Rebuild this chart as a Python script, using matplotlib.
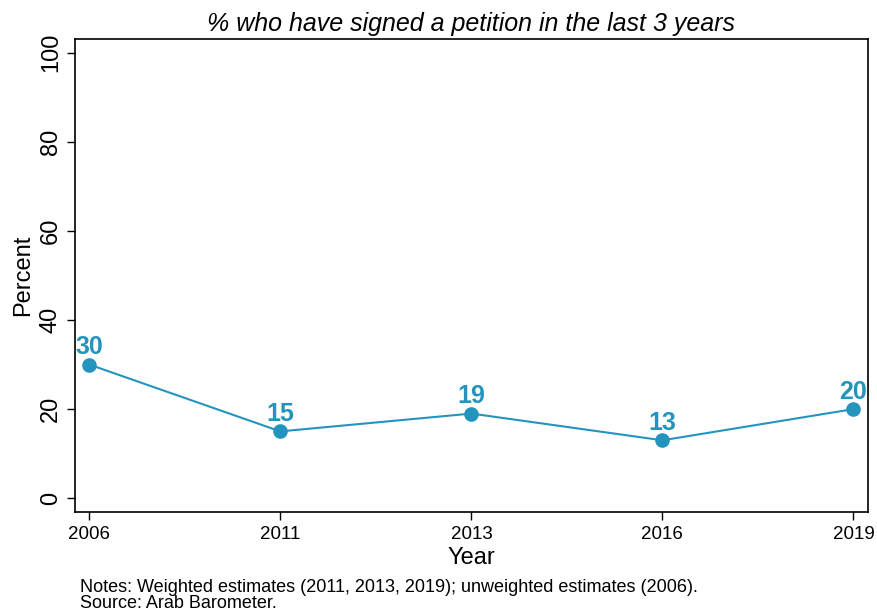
import matplotlib
matplotlib.use("Agg")
import matplotlib.pyplot as plt

years = ["2006", "2011", "2013", "2016", "2019"]
values = [30, 15, 19, 13, 20]
yticks = [0, 20, 40, 60, 80, 100]

color = "#2394bd"
plt.rcParams["font.family"] = ["Liberation Sans", "DejaVu Sans"]

fig = plt.figure(figsize=(8.77, 6.16), dpi=100)
ax = fig.add_axes([0.0855, 0.1688, 0.904, 0.768])

xs = list(range(len(years)))
ax.plot(xs, values, color=color, lw=1.5, marker="o", ms=9.5, zorder=3)
for x, v in zip(xs, values):
    ax.annotate(str(v), (x, v), xytext=(0, 4), textcoords="offset points",
                ha="center", va="bottom", color=color, fontsize=18,
                fontweight="bold")

ax.set_xlim(-0.075, 4.075)
ax.set_ylim(-3.1, 103.1)
ax.set_xticks(xs)
ax.set_xticklabels(years, fontsize=13.5)
ax.set_yticks(yticks)
ax.set_yticklabels([str(t) for t in yticks], fontsize=17, rotation=90, va="center")
ax.tick_params(direction="out", length=6, width=1, color="black")
ax.tick_params(axis="x", pad=4)
for s in ax.spines.values():
    s.set_linewidth(1.2)
    s.set_color("black")

ax.set_xlabel("Year", fontsize=17, labelpad=3)
ax.set_ylabel("Percent", fontsize=17, labelpad=4)
ax.set_title("% who have signed a petition in the last 3 years",
             fontsize=18, style="italic", pad=6)

fig.text(0.091, 0.047, "Notes: Weighted estimates (2011, 2013, 2019); unweighted estimates (2006).",
         fontsize=13, va="center")
fig.text(0.091, 0.021, "Source: Arab Barometer.", fontsize=13, va="center")

fig.savefig("out.png", dpi=100)
